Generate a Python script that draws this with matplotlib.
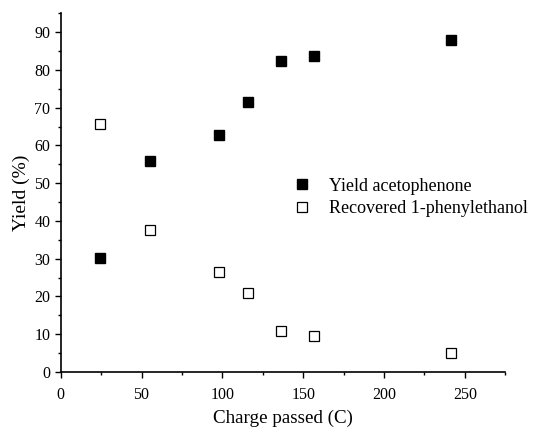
import matplotlib
matplotlib.use("Agg")
import matplotlib.pyplot as plt
from matplotlib.ticker import MultipleLocator

plt.rcParams["font.family"] = ["Liberation Serif", "DejaVu Serif"]

# data
charge = [24, 55, 98, 116, 136.5, 156.5, 241.5]
yield_acetophenone = [30.3, 55.8, 62.7, 71.5, 82.3, 83.8, 87.9]
recovered_alcohol = [65.6, 37.5, 26.4, 20.8, 10.9, 9.6, 5.1]

fig = plt.figure(figsize=(5.35, 4.28), dpi=100)
ax = fig.add_axes([0.1135, 0.131, 0.831, 0.838])

ax.plot(charge, yield_acetophenone, linestyle="none", marker="s", ms=7,
        mfc="black", mec="black", label="Yield acetophenone")
ax.plot(charge, recovered_alcohol, linestyle="none", marker="s", ms=6.5,
        mfc="white", mec="black", mew=0.9, label="Recovered 1-phenylethanol")

ax.set_xlim(0, 275)
ax.set_ylim(0, 95)
ax.xaxis.set_major_locator(MultipleLocator(50))
ax.xaxis.set_minor_locator(MultipleLocator(25))
ax.yaxis.set_major_locator(MultipleLocator(10))
ax.yaxis.set_minor_locator(MultipleLocator(5))
ax.tick_params(which="major", direction="out", length=4, width=1, labelsize=11.5)
ax.tick_params(axis="x", which="major", pad=6.5)
ax.tick_params(which="minor", direction="out", length=2.5, width=1)
for side in ["top", "right"]:
    ax.spines[side].set_visible(False)
for side in ["left", "bottom"]:
    ax.spines[side].set_linewidth(1.2)

ax.set_xlabel("Charge passed (C)", fontsize=13.7, labelpad=5)
ax.set_ylabel("Yield (%)", fontsize=14, labelpad=3)

ax.legend(loc="upper left", bbox_to_anchor=(0.503, 0.542), frameon=False,
          fontsize=13, handlelength=2, handletextpad=0.45, labelspacing=0.3,
          borderaxespad=0, borderpad=0)

fig.savefig("out.png", dpi=100)
